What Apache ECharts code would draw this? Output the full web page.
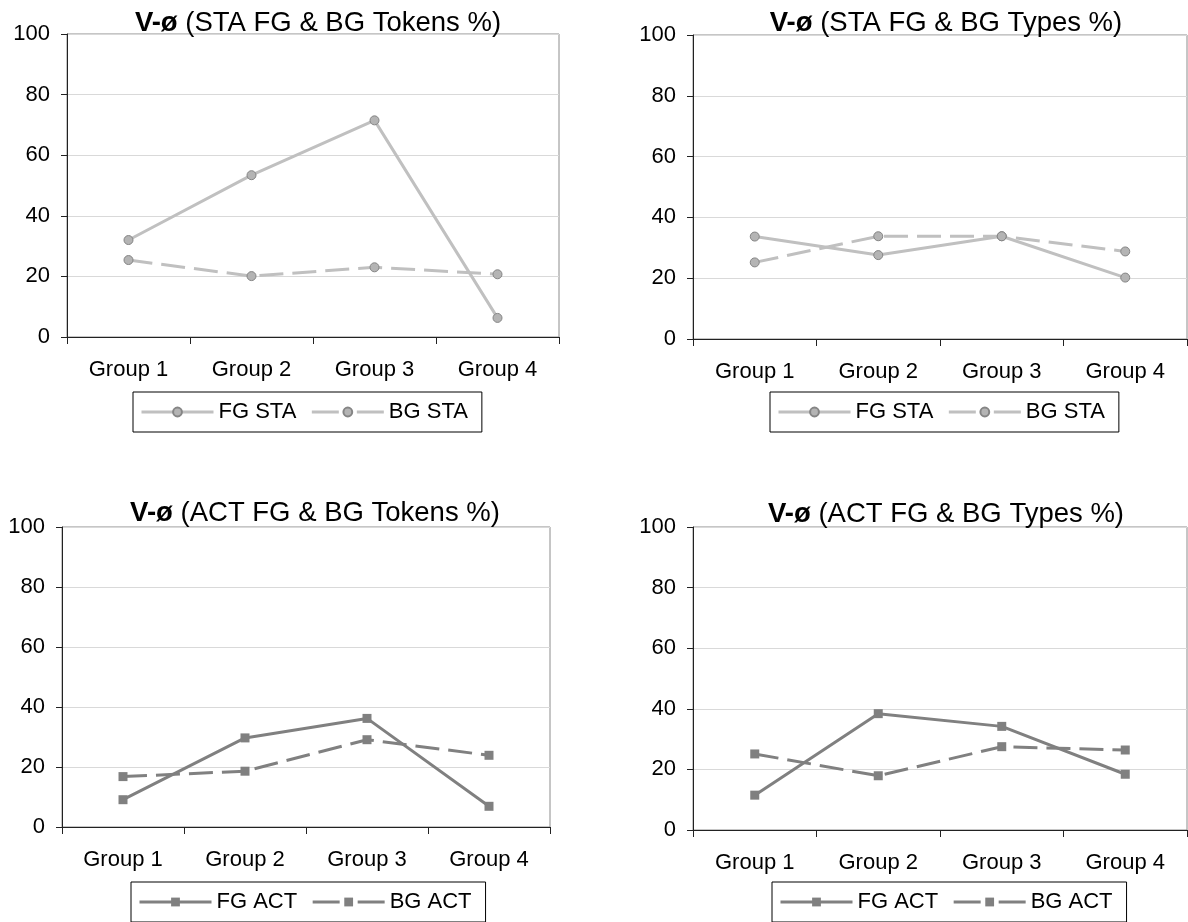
<!DOCTYPE html>
<html>
<head>
<meta charset="utf-8">
<script src="https://cdn.jsdelivr.net/npm/echarts@6/dist/echarts.min.js"></script>
<style>
html,body{margin:0;padding:0;background:#fff;}
#c{width:1188px;height:922px;}
</style>
</head>
<body>
<div id="c"></div>
<script>
const categories = ['Group 1', 'Group 2', 'Group 3', 'Group 4'];
const yTicks = { min: 0, max: 100, interval: 20 };

const titles = [
  ['V-ø', ' (STA FG & BG Tokens %)'],
  ['V-ø', ' (STA FG & BG Types %)'],
  ['V-ø', ' (ACT FG & BG Tokens %)'],
  ['V-ø', ' (ACT FG & BG Types %)']
];
const seriesNames = [
  ['FG STA', 'BG STA'],
  ['FG STA', 'BG STA'],
  ['FG ACT', 'BG ACT'],
  ['FG ACT', 'BG ACT']
];

const staTokensFG = [32.0, 53.4, 71.5, 6.3];
const staTokensBG = [25.4, 20.1, 23.0, 20.7];
const staTypesFG = [33.7, 27.6, 33.8, 20.2];
const staTypesBG = [25.2, 33.8, 33.8, 28.8];
const actTokensFG = [9.1, 29.7, 36.2, 6.9];
const actTokensBG = [16.8, 18.6, 29.1, 23.9];
const actTypesFG = [11.5, 38.4, 34.2, 18.4];
const actTypesBG = [25.1, 17.9, 27.5, 26.4];

const panelData = [
  [staTokensFG, staTokensBG],
  [staTypesFG, staTypesBG],
  [actTokensFG, actTokensBG],
  [actTypesFG, actTypesBG]
];

// layout (pixels)
const grids = [
  { left: 67, top: 34, width: 492, height: 303 },
  { left: 693, top: 35, width: 494, height: 304 },
  { left: 62, top: 527, width: 488, height: 300 },
  { left: 693, top: 527, width: 494, height: 303 }
];
const titlePos = [
  { x: 313, top: 4 },
  { x: 941, top: 4 },
  { x: 310, top: 494 },
  { x: 941, top: 495 }
];
const legendPos = [
  { left: 133, top: 392 },
  { left: 770, top: 392 },
  { left: 131, top: 882 },
  { left: 772, top: 882 }
];

const FONT = '"Liberation Sans", Arial, sans-serif';
const styles = {
  STA: { line: '#c0c0c0', fill: '#b4b4b4', border: '#858585', symbol: 'circle' },
  ACT: { line: '#808080', fill: '#808080', border: '#808080', symbol: 'rect' }
};

const option = {
  backgroundColor: '#ffffff',
  animation: false,
  title: [], grid: [], xAxis: [], yAxis: [], legend: [], series: []
};

for (let i = 0; i < 4; i++) {
  const kind = i < 2 ? 'STA' : 'ACT';
  const st = styles[kind];
  option.title.push({
    text: '{b|' + titles[i][0] + '}' + titles[i][1],
    left: titlePos[i].x,
    top: titlePos[i].top,
    textAlign: 'center',
    textStyle: {
      fontFamily: FONT, fontSize: 27.5, fontWeight: 'normal', color: '#000',
      rich: { b: { fontFamily: FONT, fontSize: 27.5, fontWeight: 'bold', color: '#000' } }
    }
  });
  option.grid.push(Object.assign({
    show: true, borderColor: '#8c8c8c', borderWidth: 1, backgroundColor: '#fff'
  }, grids[i]));
  option.xAxis.push({
    type: 'category', gridIndex: i, data: categories, boundaryGap: true,
    axisLine: { show: true, lineStyle: { color: '#222', width: 1 } },
    axisTick: { show: true, length: 7, interval: 0, lineStyle: { color: '#222' } },
    axisLabel: { fontFamily: FONT, fontSize: 22, color: '#000', margin: 22, interval: 0 },
    splitLine: { show: false }
  });
  option.yAxis.push({
    type: 'value', gridIndex: i, min: yTicks.min, max: yTicks.max, interval: yTicks.interval,
    axisLine: { show: true, lineStyle: { color: '#222', width: 1 } },
    axisTick: { show: true, length: 6, lineStyle: { color: '#222' } },
    axisLabel: { fontFamily: FONT, fontSize: 22, color: '#000', margin: 17 },
    splitLine: { show: true, lineStyle: { color: '#d9d9d9', width: 1 } }
  });
  option.legend.push({
    data: [
      { name: seriesNames[i][0] },
      { name: seriesNames[i][1], lineStyle: { type: [27, 18], width: 3 } }
    ],
    left: legendPos[i].left, top: legendPos[i].top,
    orient: 'horizontal',
    itemWidth: 72, itemHeight: 11, itemGap: 14,
    padding: [9, 14, 9, 7],
    borderColor: '#000', borderWidth: 1,
    backgroundColor: '#fff',
    selectedMode: false,
    lineStyle: { width: 3 },
    textStyle: { fontFamily: FONT, fontSize: 22, color: '#000' }
  });
  for (let s = 0; s < 2; s++) {
    option.series.push({
      type: 'line',
      name: seriesNames[i][s],
      xAxisIndex: i, yAxisIndex: i,
      data: panelData[i][s],
      symbol: st.symbol,
      symbolSize: 9,
      showSymbol: true,
      lineStyle: { color: st.line, width: 3, type: s === 0 ? 'solid' : [24, 9], cap: 'butt' },
      itemStyle: { color: st.fill, borderColor: st.border, borderWidth: kind === 'STA' ? 1 : 0 },
      emphasis: { disabled: true },
      z: 3
    });
  }
}

const chart = echarts.init(document.getElementById('c'), null, { renderer: 'canvas' });
chart.setOption(option);
</script>
</body>
</html>
